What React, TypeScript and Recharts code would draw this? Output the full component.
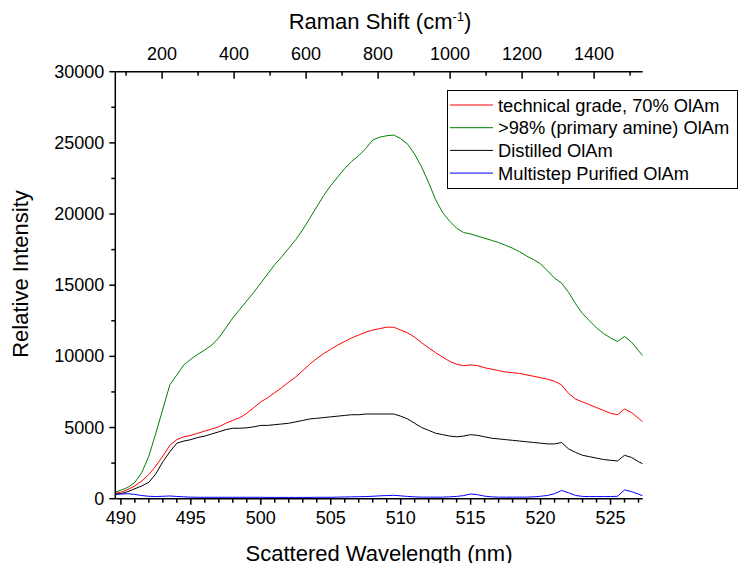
import React from "react";
import { LineChart, Line, XAxis, YAxis, Legend, Customized } from "recharts";

const FONT = "Arial, 'Liberation Sans', Helvetica, sans-serif";

// scattered wavelength (nm)
const wavelength = [
  489.6, 490, 490.5, 491, 491.5, 492, 492.5, 493, 493.5, 494,
  494.5, 495, 495.5, 496, 496.5, 497, 497.5, 498, 498.5, 499,
  499.5, 500, 500.5, 501, 501.5, 502, 502.5, 503, 503.5, 504,
  504.5, 505, 505.5, 506, 506.5, 507, 507.5, 508, 508.5, 509,
  509.5, 510, 510.5, 511, 511.5, 512, 512.5, 513, 513.5, 514,
  514.5, 515, 515.5, 516, 516.5, 517, 517.5, 518, 518.5, 519,
  519.5, 520, 520.5, 521, 521.5, 522, 522.5, 523, 523.5, 524,
  524.5, 525, 525.5, 526, 526.5, 527, 527.3,
];

const technicalGrade = [
  380, 450, 650, 900, 1250, 1700, 2300, 3000, 3750, 4150,
  4350, 4450, 4600, 4750, 4900, 5050, 5300, 5500, 5700, 6000,
  6400, 6800, 7100, 7450, 7800, 8200, 8550, 9000, 9450, 9850,
  10200, 10500, 10800, 11050, 11300, 11500, 11700, 11850, 11950, 12050,
  12050, 11850, 11650, 11350, 10950, 10600, 10250, 9950, 9650, 9450,
  9350, 9400, 9350, 9200, 9100, 9000, 8900, 8850, 8800, 8700,
  8600, 8500, 8400, 8250, 8000, 7400, 7000, 6800, 6600, 6400,
  6200, 6000, 5900, 6300, 6050, 5650, 5400,
];

const primaryAmine = [
  450, 600, 800, 1150, 1850, 3000, 4600, 6300, 8000, 8700,
  9400, 9800, 10150, 10450, 10800, 11300, 12000, 12700, 13300, 13900,
  14500, 15150, 15800, 16450, 17000, 17600, 18200, 18900, 19700, 20500,
  21300, 22000, 22600, 23200, 23700, 24100, 24600, 25200, 25400, 25500,
  25550, 25300, 24900, 24200, 23300, 22200, 21000, 20100, 19500, 19000,
  18700, 18600, 18450, 18300, 18150, 18000, 17800, 17600, 17350, 17050,
  16800, 16500, 16000, 15500, 15150, 14500, 13700, 13000, 12500, 12000,
  11600, 11300, 11050, 11400, 11000, 10400, 10050,
];

const distilled = [
  330, 350, 500, 700, 900, 1150, 1750, 2600, 3300, 3900,
  4050, 4150, 4300, 4400, 4550, 4700, 4850, 4950, 4950, 4980,
  5050, 5150, 5150, 5200, 5250, 5300, 5400, 5500, 5600, 5650,
  5700, 5750, 5800, 5850, 5900, 5900, 5950, 5950, 5950, 5950,
  5950, 5800, 5600, 5300, 5000, 4800, 4600, 4500, 4400, 4350,
  4400, 4500, 4450, 4350, 4250, 4200, 4150, 4100, 4050, 4000,
  3950, 3900, 3850, 3850, 3950, 3500, 3250, 3050, 2950, 2850,
  2750, 2700, 2650, 3050, 2900, 2600, 2450,
];

const multistep = [
  300, 330, 350, 300, 220, 170, 150, 170, 190, 160,
  130, 110, 100, 100, 100, 100, 100, 100, 100, 100,
  100, 100, 90, 90, 90, 90, 90, 90, 90, 100,
  100, 100, 110, 120, 130, 140, 150, 170, 200, 220,
  240, 200, 160, 130, 110, 110, 110, 110, 130, 160,
  220, 330, 280, 180, 130, 110, 110, 110, 110, 110,
  130, 170, 230, 350, 580, 420, 230, 160, 150, 150,
  150, 150, 170, 620, 500, 320, 200,
];

const nmTicks = [
  490, 491, 492, 493, 494, 495, 496, 497, 498, 499, 500, 501, 502, 503,
  504, 505, 506, 507, 508, 509, 510, 511, 512, 513, 514, 515, 516, 517,
  518, 519, 520, 521, 522, 523, 524, 525, 526, 527,
];
const nmLabels = [490, 495, 500, 505, 510, 515, 520, 525];

// Raman shift (cm-1) axis on top
const ramanTicks = [
  100, 200, 300, 400, 500, 600, 700, 800, 900, 1000, 1100, 1200, 1300,
  1400, 1500,
];
const ramanLabels = [200, 400, 600, 800, 1000, 1200, 1400];

const intensityTicks = [
  0, 2500, 5000, 7500, 10000, 12500, 15000, 17500, 20000, 22500, 25000,
  27500, 30000,
];
const intensityLabels = [0, 5000, 10000, 15000, 20000, 25000, 30000];

const series = [
  { key: "tech", name: "technical grade, 70% OlAm", color: "#ff0000", values: technicalGrade },
  { key: "amine", name: ">98% (primary amine) OlAm", color: "#008000", values: primaryAmine },
  { key: "dist", name: "Distilled OlAm", color: "#000000", values: distilled },
  { key: "multi", name: "Multistep Purified OlAm", color: "#0000ff", values: multistep },
];

const data = wavelength.map((x, i) => {
  const row: Record<string, number> = { x };
  series.forEach((s) => {
    row[s.key] = s.values[i];
  });
  return row;
});

// only there so the top axis has an item to measure, draws nothing
const ramanData = ramanTicks.map((shift) => ({ shift }));

const BottomTick = (props: any) => {
  const { x, y, payload } = props;
  const major = nmLabels.includes(payload.value);
  return (
    <g>
      <line x1={x} x2={x} y1={y} y2={y + (major ? 6 : 4)} stroke="#000" strokeWidth={1.5} />
      {major && (
        <text x={x} y={y + 25} textAnchor="middle" fontSize={18} fontFamily={FONT} fill="#000">
          {payload.value}
        </text>
      )}
    </g>
  );
};

const TopTick = (props: any) => {
  const { x, y, payload } = props;
  const major = ramanLabels.includes(payload.value);
  return (
    <g>
      <line x1={x} x2={x} y1={y} y2={y + (major ? 7 : 4)} stroke="#000" strokeWidth={1.5} />
      {major && (
        <text x={x} y={y - 12} textAnchor="middle" fontSize={18} fontFamily={FONT} fill="#000">
          {payload.value}
        </text>
      )}
    </g>
  );
};

const LeftTick = (props: any) => {
  const { x, y, payload } = props;
  const major = intensityLabels.includes(payload.value);
  return (
    <g>
      <line x1={x - (major ? 6 : 4)} x2={x} y1={y} y2={y} stroke="#000" strokeWidth={1.5} />
      {major && (
        <text x={x - 11} y={y + 6} textAnchor="end" fontSize={18} fontFamily={FONT} fill="#000">
          {payload.value}
        </text>
      )}
    </g>
  );
};

const LegendBox = () => (
  <div
    style={{
      width: 291,
      height: 99,
      border: "1px solid #000",
      boxSizing: "border-box",
      background: "#fff",
    }}
  >
    <svg width={289} height={97} style={{ display: "block" }}>
      {series.map((s, i) => {
        const cy = 14 + i * 22.7;
        return (
          <g key={s.key}>
            <line x1={2} x2={45} y1={cy} y2={cy} stroke={s.color} strokeWidth={1} />
            <text x={50} y={cy + 6.5} fontSize={18.3} fontFamily={FONT} fill="#000">
              {s.name}
            </text>
          </g>
        );
      })}
    </svg>
  </div>
);

const Titles = () => (
  <g fontFamily={FONT} fill="#000">
    <text x={380} y={29} textAnchor="middle" fontSize={22}>
      Raman Shift (cm
      <tspan dy={-8} fontSize={13}>-1</tspan>
      <tspan dy={8}>)</tspan>
    </text>
    <text x={379} y={561} textAnchor="middle" fontSize={22}>
      Scattered Wavelength (nm)
    </text>
    <text x={28} y={274} textAnchor="middle" fontSize={22} transform="rotate(-90 28 274)">
      Relative Intensity
    </text>
  </g>
);

export default function App() {
  return (
    <div style={{ position: "absolute", left: 0, top: 0, background: "#fff" }}>
      <LineChart
        width={740}
        height={563}
        data={data}
        margin={{ top: 41.7, right: 97.3, bottom: 34.3, left: 55.3 }}
        style={{ fontFamily: FONT }}
      >
        <XAxis
          xAxisId="nm"
          dataKey="x"
          type="number"
          orientation="bottom"
          domain={[489.6, 527.3]}
          ticks={nmTicks}
          interval={0}
          height={30}
          tickSize={0}
          tickMargin={0}
          tickLine={false}
          tick={BottomTick}
          axisLine={{ stroke: "#000", strokeWidth: 1.5 }}
          allowDataOverflow
        />
        <XAxis
          xAxisId="raman"
          dataKey="shift"
          type="number"
          orientation="top"
          domain={[70, 1535]}
          ticks={ramanTicks}
          interval={0}
          height={30}
          tickSize={0}
          tickMargin={0}
          tickLine={false}
          tick={TopTick}
          axisLine={{ stroke: "#000", strokeWidth: 1.5 }}
          allowDataOverflow
        />
        <YAxis
          yAxisId="y"
          type="number"
          domain={[0, 30000]}
          ticks={intensityTicks}
          interval={0}
          width={60}
          tickSize={0}
          tickMargin={0}
          tickLine={false}
          tick={LeftTick}
          axisLine={{ stroke: "#000", strokeWidth: 1.5 }}
          allowDataOverflow
        />
        <Legend
          layout="horizontal"
          align="center"
          verticalAlign="middle"
          content={LegendBox}
          wrapperStyle={{ left: 447, top: 90, width: 291, height: 99 }}
        />
        {series.map((s) => (
          <Line
            key={s.key}
            xAxisId="nm"
            yAxisId="y"
            dataKey={s.key}
            name={s.name}
            stroke={s.color}
            strokeWidth={1}
            dot={false}
            activeDot={false}
            type="linear"
            isAnimationActive={false}
          />
        ))}
        <Line
          xAxisId="raman"
          yAxisId="y"
          data={ramanData}
          dataKey="none"
          stroke="none"
          dot={false}
          activeDot={false}
          legendType="none"
          isAnimationActive={false}
        />
        <Customized component={Titles} />
      </LineChart>
    </div>
  );
}
